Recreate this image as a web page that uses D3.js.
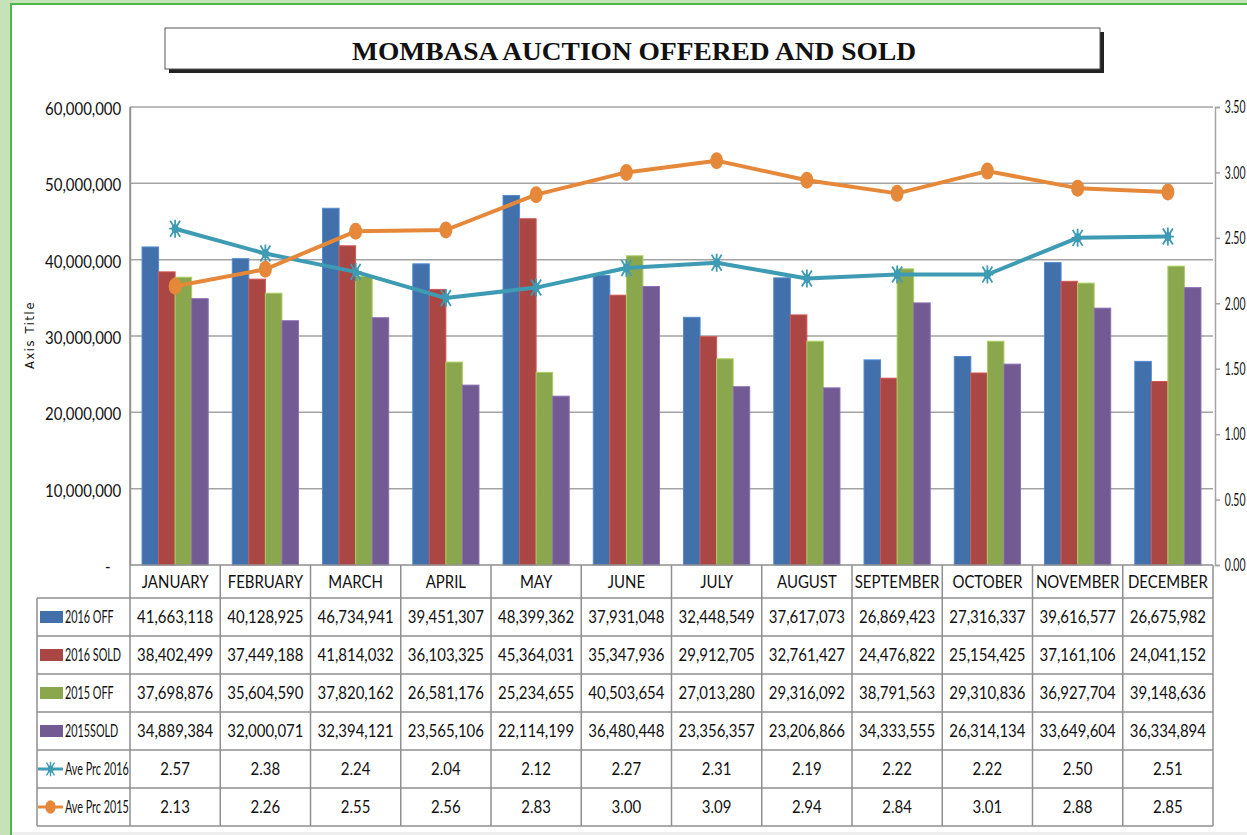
<!DOCTYPE html>
<html>
<head>
<meta charset="utf-8">
<script src="https://cdn.jsdelivr.net/npm/d3@7"></script>
<style>
  body { margin: 0; background: #fff; }
  text { fill: #111; }
</style>
</head>
<body>
<svg id="chart" width="1247" height="835"></svg>
<script>
// data
const months = ['JANUARY', 'FEBRUARY', 'MARCH', 'APRIL', 'MAY', 'JUNE', 'JULY', 'AUGUST', 'SEPTEMBER', 'OCTOBER', 'NOVEMBER', 'DECEMBER'];
const off2016 = [41663118, 40128925, 46734941, 39451307, 48399362, 37931048, 32448549, 37617073, 26869423, 27316337, 39616577, 26675982];
const sold2016 = [38402499, 37449188, 41814032, 36103325, 45364031, 35347936, 29912705, 32761427, 24476822, 25154425, 37161106, 24041152];
const off2015 = [37698876, 35604590, 37820162, 26581176, 25234655, 40503654, 27013280, 29316092, 38791563, 29310836, 36927704, 39148636];
const sold2015 = [34889384, 32000071, 32394121, 23565106, 22114199, 36480448, 23356357, 23206866, 34333555, 26314134, 33649604, 36334894];
const prc2016 = [2.57, 2.38, 2.24, 2.04, 2.12, 2.27, 2.31, 2.19, 2.22, 2.22, 2.50, 2.51];
const prc2015 = [2.13, 2.26, 2.55, 2.56, 2.83, 3.00, 3.09, 2.94, 2.84, 3.01, 2.88, 2.85];
const leftTicks = [0, 10000000, 20000000, 30000000, 40000000, 50000000, 60000000];
const rightTicks = [0, 0.5, 1, 1.5, 2, 2.5, 3, 3.5];

const barSeries = [
  { key: 'o16', name: '2016 OFF', values: off2016, color: '#4170aa' },
  { key: 's16', name: '2016 SOLD', values: sold2016, color: '#aa4643' },
  { key: 'o15', name: '2015 OFF', values: off2015, color: '#8aa74e' },
  { key: 's15', name: '2015SOLD', values: sold2015, color: '#725a92' }
];
const lineSeries = [
  { key: 'p16', name: 'Ave Prc 2016', values: prc2016, color: '#3e9bb4', marker: 'star' },
  { key: 'p15', name: 'Ave Prc 2015', values: prc2015, color: '#e6883a', marker: 'dot' }
];

const svg = d3.select('#chart');
const W = 1247, H = 835;
const plotL = 130, plotR = 1213, plotT = 107, plotB = 565;
const rowTop = 598, rowH = 38, legX = 37;
const gridCol = '#a3a3a3';
const cellFont = 'Lato, "Open Sans", sans-serif';

// page frame
svg.append('rect').attr('width', W).attr('height', H).attr('fill', '#c6e2b9');
svg.append('rect').attr('x', 11).attr('y', 4).attr('width', W + 20).attr('height', H + 20)
  .attr('fill', '#fff').attr('stroke', '#4cb84c').attr('stroke-width', 2);

// title box with shadow
svg.append('rect').attr('x', 169).attr('y', 32).attr('width', 935).attr('height', 41).attr('fill', '#222');
svg.append('rect').attr('x', 165).attr('y', 28).attr('width', 935).attr('height', 41)
  .attr('fill', '#fff').attr('stroke', '#555').attr('stroke-width', 1);
svg.append('text').attr('x', 634).attr('y', 60).attr('text-anchor', 'middle')
  .attr('font-family', '"Liberation Serif", "DejaVu Serif", serif').attr('font-weight', 'bold')
  .attr('font-size', 26).attr('textLength', 564).attr('lengthAdjust', 'spacingAndGlyphs')
  .text('MOMBASA AUCTION OFFERED AND SOLD');

// scales
const x = d3.scaleBand().domain(months).range([plotL, plotR]);
const xs = d3.scaleBand().domain(barSeries.map(s => s.key)).range([0, x.bandwidth()]).paddingOuter(0.727);
const y = d3.scaleLinear().domain([0, 60000000]).range([plotB, plotT]);
const y2 = d3.scaleLinear().domain([0, 3.5]).range([plotB, plotT]);

// gridlines
svg.append('g').selectAll('line').data(leftTicks.filter(d => d > 0)).join('line')
  .attr('x1', plotL).attr('x2', plotR)
  .attr('y1', d => y(d)).attr('y2', d => y(d))
  .attr('stroke', gridCol).attr('stroke-width', 1.5);

// left axis
const yAxis = svg.append('g').attr('transform', `translate(${plotL},0)`)
  .call(d3.axisLeft(y).tickValues(leftTicks).tickSize(0).tickPadding(10)
    .tickFormat(d => d === 0 ? '-' : d3.format(',')(d)));
yAxis.select('.domain').attr('stroke', gridCol).attr('stroke-width', 1.5);
yAxis.selectAll('text').attr('font-family', cellFont).attr('font-size', 17)
  .attr('dy', '0.45em').attr('transform', 'scale(0.88,1)')
  .attr('x', d => d === 0 ? -22 : -10);

svg.append('text').attr('transform', 'translate(34,335) rotate(-90)').attr('text-anchor', 'middle')
  .attr('font-family', '"DejaVu Sans", sans-serif').attr('font-size', 11.5).attr('letter-spacing', 1.6)
  .attr('fill', '#333').text('Axis Title');

// right axis
const y2Axis = svg.append('g').attr('transform', `translate(${plotR + 2},0)`)
  .call(d3.axisRight(y2).tickValues(rightTicks).tickSize(5).tickPadding(12).tickFormat(d3.format('.2f')));
y2Axis.select('.domain').attr('stroke', gridCol).attr('stroke-width', 1.5);
y2Axis.selectAll('.tick line').attr('stroke', gridCol).attr('stroke-width', 1.5);
y2Axis.selectAll('text').attr('font-family', cellFont).attr('font-size', 18)
  .attr('transform', 'scale(0.58,1)');

// bars
barSeries.forEach(s => {
  svg.append('g').selectAll('rect').data(s.values).join('rect')
    .attr('x', (d, i) => x(months[i]) + xs(s.key))
    .attr('y', d => y(d))
    .attr('width', xs.bandwidth())
    .attr('height', d => y(0) - y(d))
    .attr('fill', s.color)
    .attr('stroke', d3.color(s.color).brighter(0.6)).attr('stroke-width', 1);
});

// markers
function drawMarker(g, type, color) {
  if (type === 'star') {
    g.append('path').attr('d', 'M-5,-8L5,8M5,-8L-5,8M0,-9L0,9M-6,0L6,0')
      .attr('stroke', color).attr('stroke-width', 1.8).attr('fill', 'none');
    g.append('ellipse').attr('rx', 3.5).attr('ry', 4.5).attr('fill', color);
  } else {
    g.append('ellipse').attr('rx', 6.5).attr('ry', 8.5).attr('fill', color);
  }
}

// lines
lineSeries.forEach(s => {
  const line = d3.line().x((d, i) => x(months[i]) + x.bandwidth() / 2).y(d => y2(d));
  svg.append('path').datum(s.values).attr('d', line).attr('fill', 'none')
    .attr('stroke', s.color).attr('stroke-width', 4).attr('stroke-linejoin', 'round');
  s.values.forEach((d, i) => {
    const g = svg.append('g').attr('transform', `translate(${x(months[i]) + x.bandwidth() / 2},${y2(d)})`);
    drawMarker(g, s.marker, s.color);
  });
});

// data table
const tableRows = barSeries.map(s => ({ ...s, type: 'bar', fmt: d3.format(',') }))
  .concat(lineSeries.map(s => ({ ...s, type: 'line', fmt: d3.format('.2f') })));
const tableBottom = rowTop + rowH * tableRows.length;

const grid = svg.append('g').attr('stroke', '#8f8f8f').attr('stroke-width', 1.5);
grid.append('line').attr('x1', plotL).attr('x2', plotR).attr('y1', plotB).attr('y2', plotB);
d3.range(tableRows.length + 1).forEach(k => {
  grid.append('line').attr('x1', legX).attr('x2', plotR)
    .attr('y1', rowTop + k * rowH).attr('y2', rowTop + k * rowH);
});
months.forEach(m => {
  grid.append('line').attr('x1', x(m) + x.bandwidth()).attr('x2', x(m) + x.bandwidth())
    .attr('y1', plotB).attr('y2', tableBottom);
});
grid.append('line').attr('x1', plotL).attr('x2', plotL).attr('y1', plotT).attr('y2', tableBottom);
grid.append('line').attr('x1', legX).attr('x2', legX).attr('y1', rowTop).attr('y2', tableBottom);

// month header
const xAxis = svg.append('g').attr('transform', `translate(0,${plotB})`)
  .call(d3.axisBottom(x).tickSize(0).tickPadding(0));
xAxis.select('.domain').remove();
xAxis.selectAll('text').attr('font-family', cellFont).attr('font-size', 17)
  .attr('y', (rowTop - plotB) / 2).attr('dy', '0.36em').attr('transform', 'scale(0.88,1)');

// table cells
tableRows.forEach((r, k) => {
  const cy = rowTop + k * rowH + rowH / 2;
  r.values.forEach((d, i) => {
    svg.append('text')
      .attr('transform', `translate(${x(months[i]) + x.bandwidth() / 2},${cy}) scale(0.88,1)`)
      .attr('text-anchor', 'middle').attr('dy', '0.36em')
      .attr('font-family', cellFont).attr('font-size', 17)
      .text(r.fmt(d));
  });
  // legend key
  const key = svg.append('g').attr('transform', `translate(${legX},${cy})`);
  if (r.type === 'bar') {
    key.append('rect').attr('x', 3).attr('y', -6).attr('width', 23).attr('height', 12).attr('fill', r.color);
  } else {
    key.append('line').attr('x1', 1).attr('x2', 26).attr('stroke', r.color).attr('stroke-width', 3);
    const mg = key.append('g').attr('transform', 'translate(13.5,0) scale(0.8)');
    drawMarker(mg, r.marker, r.color);
  }
  svg.append('text').attr('transform', `translate(${legX + 28},${cy}) scale(0.6,1)`)
    .attr('dy', '0.36em').attr('font-family', cellFont).attr('font-size', 18)
    .text(r.name);
});

// faint strip along the bottom edge
svg.append('rect').attr('x', 12).attr('y', 832).attr('width', W).attr('height', 3).attr('fill', '#eeeeee');
</script>
</body>
</html>
